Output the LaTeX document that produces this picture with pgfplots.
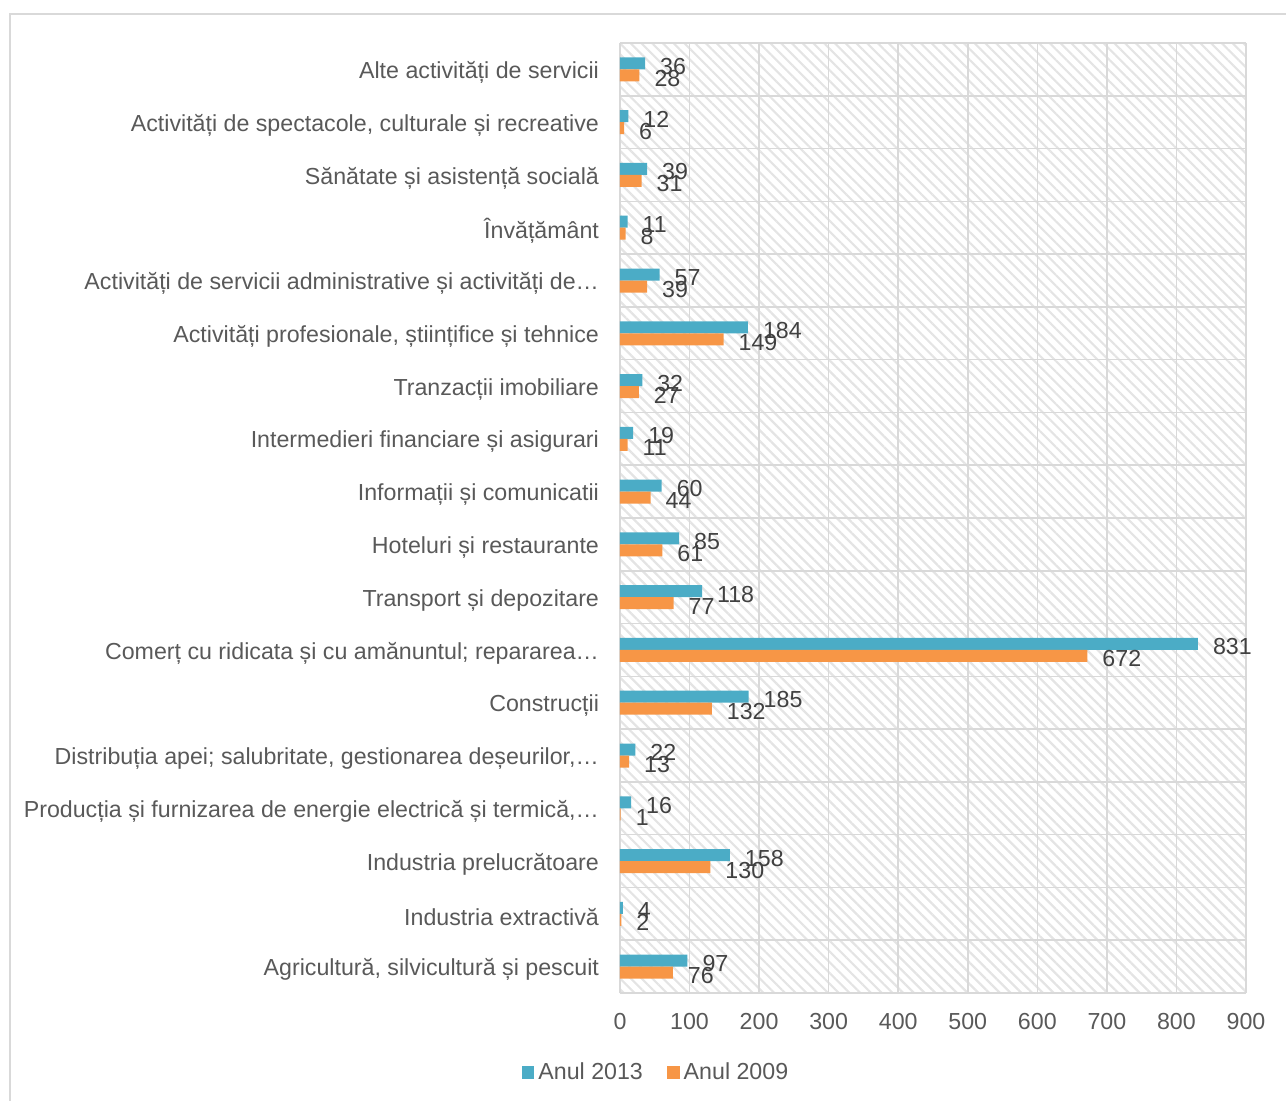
\documentclass[border=0pt]{standalone}
\usepackage{pgfplots}
\pgfplotsset{compat=1.18}
\usetikzlibrary{patterns.meta}
\usepackage{fontspec}
\setmainfont{Liberation Sans}
\definecolor{c13}{HTML}{4BACC6}
\definecolor{c09}{HTML}{F79646}
\definecolor{txt}{HTML}{595959}
\definecolor{lbl}{HTML}{404040}
\definecolor{gridc}{HTML}{D9D9D9}
\definecolor{hatch}{HTML}{E4E4E4}
\begin{document}
\begin{tikzpicture}
\useasboundingbox (0,0) rectangle (643pt,-550pt);
\draw[gridc, line width=0.8pt] (5pt,-7pt) rectangle (700pt,-600pt);
\begin{axis}[
 at={(310pt,-496.5pt)}, anchor=south west,
 scale only axis, width=313pt, height=475pt,
 /pgf/number format/assume math mode=true,
 xbar=0pt, bar width=6pt,
 xmin=0, xmax=900, ymin=-0.5, ymax=17.5,
 xtick={0,100,...,900},
 ytick={0,...,17},
 yticklabels={
  {Agricultură, silvicultură și pescuit},
  {Industria extractivă},
  {Industria prelucrătoare},
  {Producția și furnizarea de energie electrică și termică,…},
  {Distribuția apei; salubritate, gestionarea deșeurilor,…},
  {Construcții},
  {Comerț cu ridicata și cu amănuntul; repararea…},
  {Transport și depozitare},
  {Hoteluri și restaurante},
  {Informații și comunicatii},
  {Intermedieri financiare și asigurari},
  {Tranzacții imobiliare},
  {Activități profesionale, științifice și tehnice},
  {Activități de servicii administrative și activități de…},
  {Învățământ},
  {Sănătate și asistență socială},
  {Activități de spectacole, culturale și recreative},
  {Alte activități de servicii}},
 minor ytick={-0.5,0.5,...,17.5},
 xmajorgrids, yminorgrids,
 major grid style={gridc, line width=0.8pt},
 minor grid style={gridc, line width=0.8pt},
 axis line style={draw=none},
 major tick length=0pt, minor tick length=0pt,
 tick label style={font=\fontsize{11.6}{14}\selectfont, text=txt},
 yticklabel style={xshift=-7pt, yshift=-1.5pt},
 xticklabel style={yshift=-6.5pt},
 axis background/.style={pattern={Lines[angle=-45,distance=3.8pt,line width=1.1pt]}, pattern color=hatch},
 legend style={at={(0.059,-0.084)}, anchor=center, draw=none, fill=none,
   legend columns=2, font=\fontsize{11.6}{14}\selectfont, text=txt,
   /tikz/every even column/.append style={column sep=10pt}},
 legend image code/.code={\fill[#1] (0pt,-3.2pt) rectangle (6.4pt,3.2pt);},
 point meta=x,
 nodes near coords,
 nodes near coords style={anchor=west, xshift=4pt, yshift=-1.5pt, font=\fontsize{11.6}{14}\selectfont, text=lbl},
]
\addplot[fill=c13, draw=none, bar shift=3pt] coordinates {
(97,0) (4,1) (158,2) (16,3) (22,4) (185,5) (831,6) (118,7) (85,8) (60,9)
(19,10) (32,11) (184,12) (57,13) (11,14) (39,15) (12,16) (36,17)};
\addplot[fill=c09, draw=none, bar shift=-3pt] coordinates {
(76,0) (2,1) (130,2) (1,3) (13,4) (132,5) (672,6) (77,7) (61,8) (44,9)
(11,10) (27,11) (149,12) (39,13) (8,14) (31,15) (6,16) (28,17)};
\legend{Anul 2013, Anul 2009}
\end{axis}
\end{tikzpicture}
\end{document}
